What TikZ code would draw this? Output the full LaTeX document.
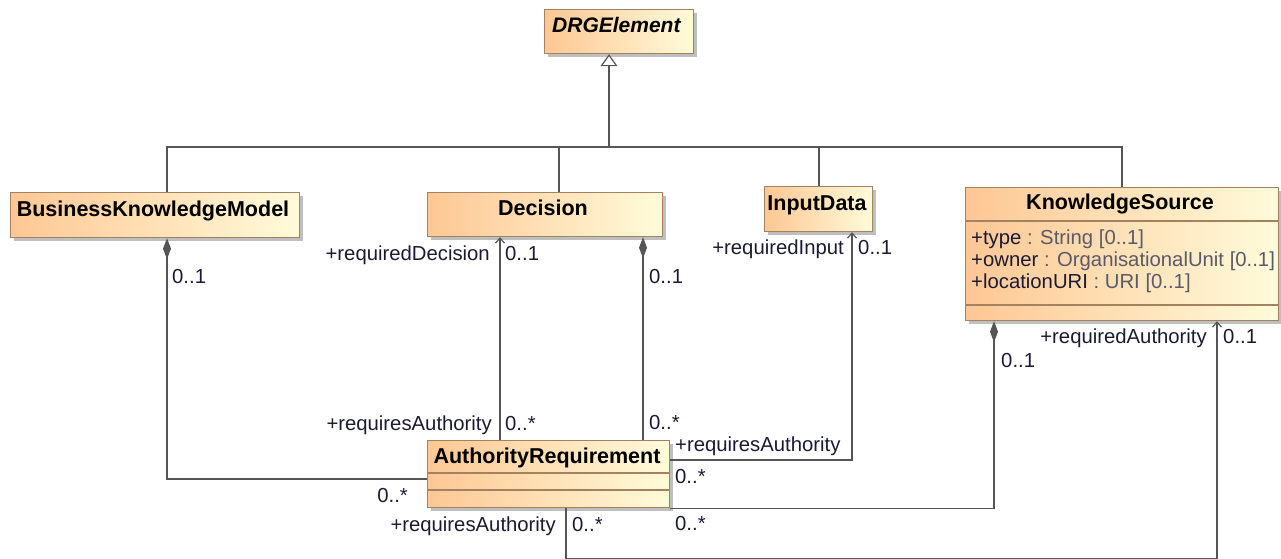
\documentclass[tikz,border=0pt]{standalone}
\usepackage{fontspec}
\setmainfont{Liberation Sans}
\usetikzlibrary{arrows.meta,shadows}
\definecolor{fillL}{HTML}{FDC794}
\definecolor{fillR}{HTML}{FFFBDA}
\definecolor{bord}{HTML}{A2825F}
\definecolor{conn}{HTML}{555555}
\definecolor{txt}{HTML}{1A1A33}
\definecolor{typ}{HTML}{5A5A6A}
\tikzset{
 cls/.style={draw=bord, line width=1.2pt, left color=fillL, right color=fillR, anchor=north west, inner sep=0pt,
   drop shadow={shadow xshift=3pt, shadow yshift=-3pt, fill=black, opacity=0.25}},
 ttl/.style={font=\fontsize{21.5}{24}\selectfont\bfseries, text=black, inner sep=0pt, anchor=base},
 lbl/.style={font=\fontsize{20.3}{24}\selectfont, text=txt, inner sep=0pt},
 lblL/.style={lbl, anchor=base west},
 lblR/.style={lbl, anchor=base east},
 compsep/.style={draw=bord, line width=1.2pt},
 conline/.style={draw=conn, line width=1.3pt},
 gen/.style={conline, {Triangle[open, fill=white, length=12pt, width=17pt, line width=1.2pt]}-},
 comp/.style={conline, {Diamond[length=21pt, width=8pt]}-},
 nav/.style={conline, -{Straight Barb[length=5pt, width=9pt, line width=1.2pt]}},
}
\begin{document}
\begin{tikzpicture}[x=1pt,y=-1pt]
\useasboundingbox (0,0) rectangle (1281,558);

% class boxes
\node[cls, minimum width=149pt, minimum height=44pt] (drg) at (544,9) {};
\node[cls, minimum width=289pt, minimum height=45pt] (bkm) at (10,192) {};
\node[cls, minimum width=235pt, minimum height=44pt] (dec) at (427,192) {};
\node[cls, minimum width=108pt, minimum height=45pt] (id) at (764,186) {};
\node[cls, minimum width=313pt, minimum height=133pt] (ks) at (965,187) {};
\node[cls, minimum width=242pt, minimum height=67pt] (ar) at (427,440) {};

% compartments
\draw[compsep] ([yshift=-34pt]ks.north west) -- ([yshift=-34pt]ks.north east);
\draw[compsep] ([yshift=-118pt]ks.north west) -- ([yshift=-118pt]ks.north east);
\draw[compsep] ([yshift=-33pt]ar.north west) -- ([yshift=-33pt]ar.north east);
\draw[compsep] ([yshift=-50pt]ar.north west) -- ([yshift=-50pt]ar.north east);

% titles
\node[ttl, font=\fontsize{21}{24}\selectfont\bfseries\itshape, anchor=base west] (drgT) at (552,32) {DRGElement};
\node[ttl] (bkmT) at (153,216) {BusinessKnowledgeModel};
\node[ttl] (decT) at (543,215) {Decision};
\node[ttl] (idT) at (817,210) {InputData};
\node[ttl] (ksT) at (1120,209) {KnowledgeSource};
\node[ttl] (arT) at (547,463) {AuthorityRequirement};

% attributes
\node[lblL] (ka1) at (971,244) {+type \textcolor{typ}{: String [0..1]}};
\node[lblL] (ka2) at (971,266) {+owner \textcolor{typ}{: OrganisationalUnit [0..1]}};
\node[lblL] (ka3) at (971,288) {+locationURI \textcolor{typ}{: URI [0..1]}};

% generalization tree
\coordinate (hub) at (609,147);
\draw[gen] ([xshift=65pt]drg.south west) -- (hub);
\draw[conline] (hub) -| ([xshift=157pt]bkm.north west);
\draw[conline] (hub) -| ([xshift=132pt]dec.north west);
\draw[conline] (hub) -| ([xshift=55pt]id.north west);
\draw[conline] (hub) -| ([xshift=157pt]ks.north west);

% associations
\draw[comp] ([xshift=157pt]bkm.south west) |- ([yshift=-39pt]ar.north west);
\draw[nav] ([xshift=73pt]ar.north west) -- ([xshift=73pt]dec.south west);
\draw[comp] ([xshift=216pt]dec.south west) -- ([xshift=216pt]ar.north west);
\draw[nav] ([yshift=-20pt]ar.north east) -| ([xshift=88pt]id.south west);
\draw[comp] ([xshift=29pt]ks.south west) |- (ar.south east);
\draw[nav] ([xshift=139pt]ar.south west) -- ++(0,50) -| ([xshift=252pt]ks.south west);

% role names and multiplicities
\node[lblL] (m1) at (172,283) {0..1};
\node[lblR] (r1) at (490,260) {+requiredDecision};
\node[lblL] (m2) at (505,260) {0..1};
\node[lblL] (m3) at (649,283) {0..1};
\node[lblR] (r2) at (844,254) {+requiredInput};
\node[lblL] (m4) at (858,254) {0..1};
\node[lblL] (m5) at (1001,367) {0..1};
\node[lblR] (r3) at (1207,343) {+requiredAuthority};
\node[lblL] (m6) at (1223,343) {0..1};
\node[lblR] (r4) at (492,430) {+requiresAuthority};
\node[lblL] (m7) at (505,430) {0..*};
\node[lblL] (m8) at (649,429) {0..*};
\node[lblL] (r5) at (675,451) {+requiresAuthority};
\node[lblL] (m9) at (675,483) {0..*};
\node[lblR] (m10) at (408,502) {0..*};
\node[lblL] (m11) at (675,530) {0..*};
\node[lblR] (r6) at (556,531) {+requiresAuthority};
\node[lblL] (m12) at (572,531) {0..*};
\end{tikzpicture}
\end{document}
